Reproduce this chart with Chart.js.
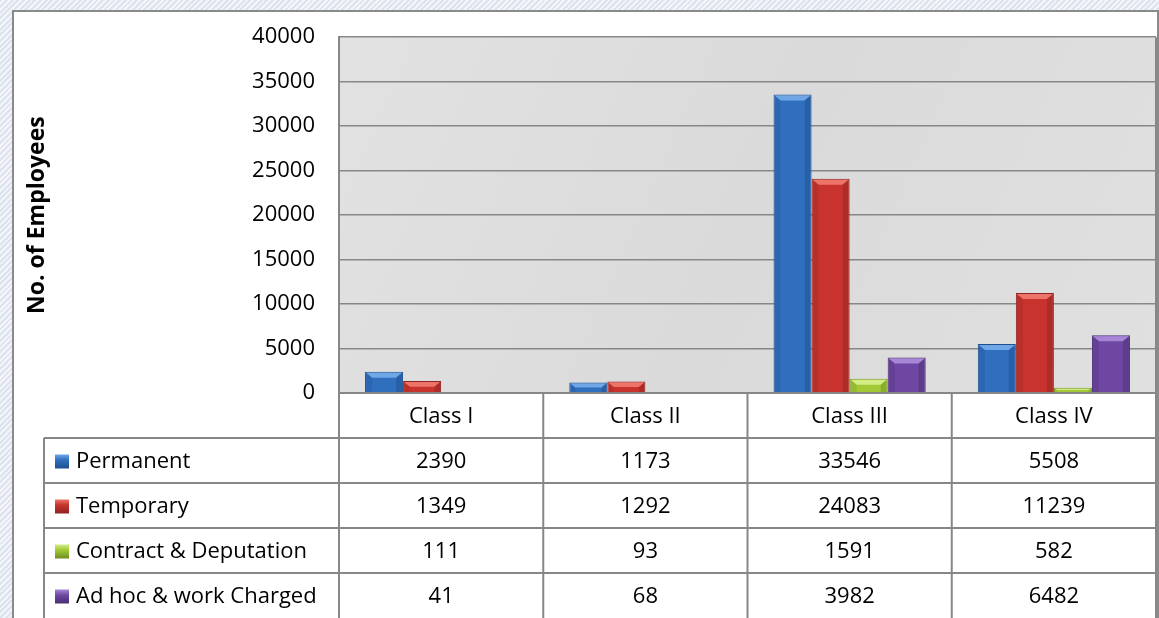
<!DOCTYPE html>
<html>
<head>
<meta charset="utf-8">
<script src="https://cdn.jsdelivr.net/npm/chart.js@4/dist/chart.umd.min.js"></script>
<style>
body{margin:0;width:1159px;height:618px;overflow:hidden;
background:repeating-linear-gradient(135deg,#dce3ee 0 2px,#f3f5f9 2px 4px)}
#frame{position:absolute;left:12px;top:10px;width:1143px;height:620px;background:#fff;border:2px solid #8a8a8a}
canvas{position:absolute;left:0;top:0}
</style>
</head>
<body>
<div id="frame"></div>
<canvas id="chart" width="1159" height="618"></canvas>
<script>
const categories = ["Class I", "Class II", "Class III", "Class IV"]
const permanent = [2390, 1173, 33546, 5508]
const temporary = [1349, 1292, 24083, 11239]
const contract = [111, 93, 1591, 582]
const adhoc = [41, 68, 3982, 6482]
const seriesNames = ["Permanent", "Temporary", "Contract & Deputation", "Ad hoc & work Charged"]

// body, light top, dark edge
const colors = [
  ["#306ebe", "#6ea6e6", "#1f4f8e"],
  ["#c8332e", "#ec7468", "#8e2420"],
  ["#a2c936", "#d3ec84", "#6f8c22"],
  ["#6e47a2", "#a886d6", "#4a2f72"]
]

const FONT = "'Open Sans', 'Noto Sans', sans-serif"
const lineCol = "#878787"

const marble = {
  id: "marble",
  beforeDraw(chart){
    const {ctx, chartArea:a} = chart
    const g = ctx.createLinearGradient(a.left, a.top, a.right, a.bottom)
    g.addColorStop(0, "#e2e2e2")
    g.addColorStop(0.5, "#dadada")
    g.addColorStop(1, "#e0e0e0")
    ctx.save()
    ctx.fillStyle = g
    ctx.fillRect(a.left, a.top, a.right - a.left, a.bottom - a.top)
    ctx.restore()
  }
}

const bevel = {
  id: "bevel",
  afterDatasetsDraw(chart){
    const ctx = chart.ctx
    chart.data.datasets.forEach((ds, di) => {
      chart.getDatasetMeta(di).data.forEach(el => {
        const l = el.x - el.width/2, r = el.x + el.width/2
        const t = el.y, b = el.base
        const h = b - t
        if (h < 1) return
        const d = Math.min(6, h/2)
        ctx.save()
        ctx.fillStyle = colors[di][1]
        ctx.beginPath()
        ctx.moveTo(l+1, t+1); ctx.lineTo(r-1, t+1); ctx.lineTo(r-1-d, t+d); ctx.lineTo(l+1+d, t+d); ctx.closePath()
        ctx.fill()
        ctx.globalAlpha = 0.45
        ctx.fillStyle = colors[di][2]
        ctx.beginPath()
        ctx.moveTo(r-1, t+1); ctx.lineTo(r-1, b); ctx.lineTo(r-1-d, b); ctx.lineTo(r-1-d, t+d); ctx.closePath()
        ctx.fill()
        ctx.globalAlpha = 0.25
        ctx.beginPath()
        ctx.moveTo(l+1, t+1); ctx.lineTo(l+1, b); ctx.lineTo(l+1+d, b); ctx.lineTo(l+1+d, t+d); ctx.closePath()
        ctx.fill()
        ctx.restore()
      })
    })
  }
}

const dataTable = {
  id: "dataTable",
  afterDraw(chart){
    const {ctx, chartArea:a} = chart
    const xs = chart.scales.x
    const colW = (a.right - a.left) / categories.length
    const rowH = 45
    const top = a.bottom
    const leftX = 44
    const bottom = top + rowH * 5 + 5
    const rows = [permanent, temporary, contract, adhoc]

    ctx.save()
    ctx.strokeStyle = lineCol
    ctx.lineWidth = 2
    ctx.beginPath(); ctx.moveTo(a.right, a.top); ctx.lineTo(a.right, bottom); ctx.stroke()
    ctx.beginPath(); ctx.moveTo(a.left, top); ctx.lineTo(a.right, top); ctx.stroke()
    for (let i = 1; i <= 4; i++){
      const y = top + rowH*i
      ctx.beginPath(); ctx.moveTo(leftX, y); ctx.lineTo(a.right, y); ctx.stroke()
    }
    for (let i = 0; i < categories.length; i++){
      const x = a.left + colW*i
      ctx.beginPath(); ctx.moveTo(x, top); ctx.lineTo(x, bottom); ctx.stroke()
    }
    ctx.beginPath(); ctx.moveTo(leftX, top + rowH); ctx.lineTo(leftX, bottom); ctx.stroke()

    ctx.fillStyle = "#000"
    ctx.font = "22px " + FONT
    ctx.textAlign = "center"
    ctx.textBaseline = "middle"
    categories.forEach((c, i) => {
      ctx.fillText(c, xs.getPixelForValue(i), top + rowH/2 + 1)
    })
    rows.forEach((r, ri) => {
      const y = top + rowH*(ri+1) + rowH/2 + 1
      r.forEach((v, i) => ctx.fillText(String(v), xs.getPixelForValue(i), y))
      const kx = 55, ky = y - 7
      const g = ctx.createLinearGradient(0, ky, 0, ky + 14)
      g.addColorStop(0, colors[ri][1]); g.addColorStop(0.4, colors[ri][0]); g.addColorStop(1, colors[ri][2])
      ctx.fillStyle = g
      ctx.fillRect(kx, ky, 14, 14)
      ctx.fillStyle = "#000"
      ctx.textAlign = "left"
      ctx.fillText(seriesNames[ri], 76, y)
      ctx.textAlign = "center"
    })
    ctx.restore()
  }
}

const seriesData = [permanent, temporary, contract, adhoc]

new Chart(document.getElementById("chart"), {
  type: "bar",
  data: {
    labels: categories,
    datasets: seriesData.map((d, i) => ({
      label: seriesNames[i],
      data: d,
      backgroundColor: colors[i][0],
      borderColor: colors[i][2],
      borderWidth: 1,
      categoryPercentage: 0.745,
      barPercentage: 1.0
    }))
  },
  options: {
    responsive: false,
    maintainAspectRatio: false,
    animation: false,
    layout: { padding: { left: 14, top: 33, right: 3, bottom: 225 } },
    plugins: { legend: { display: false }, tooltip: { enabled: false } },
    scales: {
      x: { display: false },
      y: {
        min: 0, max: 40000,
        ticks: { stepSize: 5000, padding: 24, color: "#000", font: { family: FONT, size: 22 },
          callback: v => String(v) },
        grid: { color: lineCol, lineWidth: 1.5, drawTicks: false },
        border: { display: true, color: lineCol, width: 2 },
        title: { display: true, text: "No. of Employees", color: "#000",
          font: { family: FONT, size: 23, weight: "bold" }, padding: { top: 10 } },
        afterFit(scale){ scale.width = 339 - 14 }
      }
    }
  },
  plugins: [marble, bevel, dataTable]
})
</script>
</body>
</html>
